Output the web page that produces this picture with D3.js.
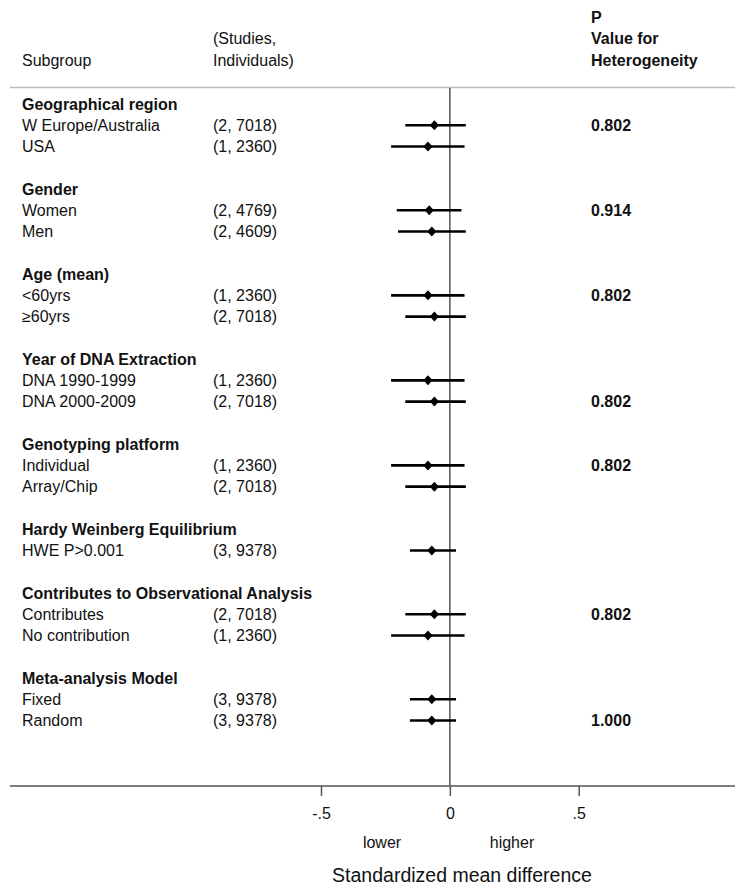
<!DOCTYPE html>
<html><head><meta charset="utf-8">
<script src="https://cdn.jsdelivr.net/npm/d3@7"></script>
<style>body{margin:0;background:#fff}svg{display:block}text{font-family:"Liberation Sans",Arial,sans-serif;fill:#111}</style>
</head><body><svg id="c" width="735" height="885"></svg>
<script>
// rows: type "h" = group header, "r" = data row, "b" = blank
const labels = ["Geographical region","W Europe/Australia","USA","",
  "Gender","Women","Men","",
  "Age (mean)","<60yrs","\u226560yrs","",
  "Year of DNA Extraction","DNA 1990-1999","DNA 2000-2009","",
  "Genotyping platform","Individual","Array/Chip","",
  "Hardy Weinberg Equilibrium","HWE P>0.001","",
  "Contributes to Observational Analysis","Contributes","No contribution","",
  "Meta-analysis Model","Fixed","Random"];
const rowTypes = ["h","r","r","b","h","r","r","b","h","r","r","b","h","r","r","b","h","r","r","b","h","r","b","h","r","r","b","h","r","r"];
const studies = ["","(2, 7018)","(1, 2360)","","","(2, 4769)","(2, 4609)","","","(1, 2360)","(2, 7018)","","","(1, 2360)","(2, 7018)","","","(1, 2360)","(2, 7018)","","","(3, 9378)","","","(2, 7018)","(1, 2360)","","","(3, 9378)","(3, 9378)"];
const est = [null,-0.060,-0.085,null,null,-0.080,-0.070,null,null,-0.085,-0.060,null,null,-0.085,-0.060,null,null,-0.085,-0.060,null,null,-0.070,null,null,-0.060,-0.085,null,null,-0.070,-0.070];
const lo  = [null,-0.173,-0.228,null,null,-0.206,-0.201,null,null,-0.228,-0.173,null,null,-0.228,-0.173,null,null,-0.228,-0.173,null,null,-0.155,null,null,-0.173,-0.228,null,null,-0.155,-0.155];
const hi  = [null,0.062,0.057,null,null,0.045,0.062,null,null,0.057,0.062,null,null,0.057,0.062,null,null,0.057,0.062,null,null,0.024,null,null,0.062,0.057,null,null,0.024,0.024];
const pHet = ["","0.802","","","","0.914","","","","0.802","","","","","0.802","","","0.802","","","","","","","0.802","","","","","1.000"];
const xTicks = [-0.5, 0, 0.5];
const xTickLabels = ["-.5","0",".5"];

const svg = d3.select("#c");
const x = d3.scaleLinear().domain([-0.5, 0.5]).range([321, 578.7]);
const y = d3.scaleLinear().domain([0, labels.length-1]).range([104, 720.5]);
const fs = 16;

// header
const hdr = svg.append("g").attr("font-size", fs);
hdr.append("text").attr("x",22).attr("y",66).text("Subgroup");
hdr.append("text").attr("x",213).attr("y",44).text("(Studies,");
hdr.append("text").attr("x",213).attr("y",66).text("Individuals)");
hdr.append("text").attr("x",591).attr("y",23).attr("font-weight","bold").text("P");
hdr.append("text").attr("x",591).attr("y",44).attr("font-weight","bold").text("Value for");
hdr.append("text").attr("x",591).attr("y",66).attr("font-weight","bold").text("Heterogeneity");

svg.append("line").attr("x1",10).attr("x2",735).attr("y1",87.5).attr("y2",87.5)
  .attr("stroke","#bbb").attr("stroke-width",1.5);

// zero line
svg.append("line").attr("x1",x(0)).attr("x2",x(0)).attr("y1",88).attr("y2",786)
  .attr("stroke","#555").attr("stroke-width",1.5);

const idx = d3.range(labels.length);
const g = svg.append("g").attr("font-size", fs);
g.selectAll("text.lab").data(idx.filter(i=>rowTypes[i]!=="b")).join("text")
  .attr("class","lab").attr("x",22).attr("y",i=>y(i)).attr("dy","0.36em")
  .attr("font-weight",i=>rowTypes[i]==="h"?"bold":null).text(i=>labels[i]);
g.selectAll("text.st").data(idx.filter(i=>studies[i])).join("text")
  .attr("class","st").attr("x",213).attr("y",i=>y(i)).attr("dy","0.36em").text(i=>studies[i]);
g.selectAll("text.p").data(idx.filter(i=>pHet[i])).join("text")
  .attr("class","p").attr("x",591).attr("y",i=>y(i)).attr("dy","0.36em").attr("font-weight","bold").text(i=>pHet[i]);

const dr = idx.filter(i=>est[i]!==null);
svg.selectAll("line.ci").data(dr).join("line")
  .attr("class","ci")
  .attr("x1",i=>x(lo[i])).attr("x2",i=>x(hi[i])).attr("y1",i=>y(i)).attr("y2",i=>y(i))
  .attr("stroke","#000").attr("stroke-width",2.6);
svg.selectAll("path.pt").data(dr).join("path")
  .attr("class","pt")
  .attr("transform",i=>`translate(${x(est[i])},${y(i)})`)
  .attr("d","M0,-5L4.6,0L0,5L-4.6,0Z").attr("fill","#000");

// axis
const axY = 786;
svg.append("line").attr("x1",10).attr("x2",735).attr("y1",axY).attr("y2",axY)
  .attr("stroke","#555").attr("stroke-width",1.5);
const ax = d3.axisBottom(x).tickValues(xTicks).tickFormat((d,i)=>xTickLabels[i]).tickSize(10).tickPadding(12);
const axg = svg.append("g").attr("transform",`translate(0,${axY})`).call(ax);
axg.select(".domain").remove();
axg.selectAll("line").attr("stroke","#555").attr("stroke-width",1.5);
axg.selectAll("text").attr("font-size",fs).attr("fill","#111").style("font-family",'"Liberation Sans",Arial,sans-serif');

svg.append("text").attr("x",382).attr("y",848).attr("text-anchor","middle").attr("font-size",fs).text("lower");
svg.append("text").attr("x",512).attr("y",848).attr("text-anchor","middle").attr("font-size",fs).text("higher");
svg.append("text").attr("x",462).attr("y",882).attr("text-anchor","middle").attr("font-size",19.5).text("Standardized mean difference");
</script></body></html>
